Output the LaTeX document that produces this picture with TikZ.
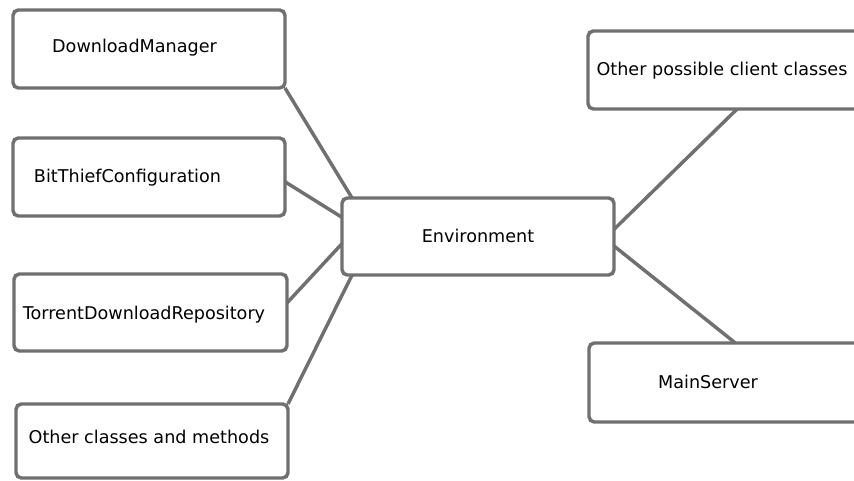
\documentclass[tikz,border=0pt]{standalone}
\usepackage{fontspec}
\setmainfont{DejaVu Sans}
\usetikzlibrary{positioning}
\definecolor{boxgray}{RGB}{112,112,112}

\begin{document}
\begin{tikzpicture}[
    x=0.75pt, y=-0.75pt,
    box/.style={rectangle, draw=boxgray, fill=white, line width=2.6pt, rounded corners=4pt, inner sep=0pt, outer sep=0pt},
    boxtext/.style={anchor=base, inner sep=0pt, font=\fontsize{13.2}{15}\selectfont},
    link/.style={draw=boxgray, line width=2.6pt}]

    \useasboundingbox (0,0) rectangle (854,481);
    \clip (0,0) rectangle (854,481);

    % Boxes on the left
    \node [box, minimum width=204pt, minimum height=58.5pt] (dm) at (149,49) {};
    \node [boxtext] (dm-t) at (134.5,53) {DownloadManager};

    \node [box, minimum width=204pt, minimum height=58.5pt] (btc) at (149,177) {};
    \node [boxtext] (btc-t) at (127.5,183) {BitThiefConfiguration};

    \node [box, minimum width=204.75pt, minimum height=57.75pt] (tdr) at (150.5,312.5) {};
    \node [boxtext] (tdr-t) at (144,320) {TorrentDownloadRepository};

    \node [box, minimum width=204pt, minimum height=55.5pt] (ocm) at (152,441) {};
    \node [boxtext] (ocm-t) at (149,443) {Other classes and methods};

    % Central box
    \node [box, minimum width=204pt, minimum height=57.75pt] (env) at (478,236.5) {};
    \node [boxtext] (env-t) at (478,243) {Environment};

    % Boxes on the right (cut at the edge)
    \node [box, minimum width=234pt, minimum height=58.5pt] (opc) at (744,70) {};
    \node [boxtext] (opc-t) at (722,76) {Other possible client classes};

    \node [box, minimum width=233.25pt, minimum height=59.25pt] (ms) at (744.5,382.5) {};
    \node [boxtext] (ms-t) at (708,388) {MainServer};

    % Connections
    \draw [link] (dm.south east) -- (env.163);
    \draw [link] (btc.-2.5) -- (env.172);
    \draw [link] (tdr.4.3) -- (env.183);
    \draw [link] (ocm.north east) -- (env.197.4);
    \draw [link] (env.3.5) -- (opc.260);
    \draw [link] (env.-4.3) -- (ms.103.5);
\end{tikzpicture}
\end{document}
